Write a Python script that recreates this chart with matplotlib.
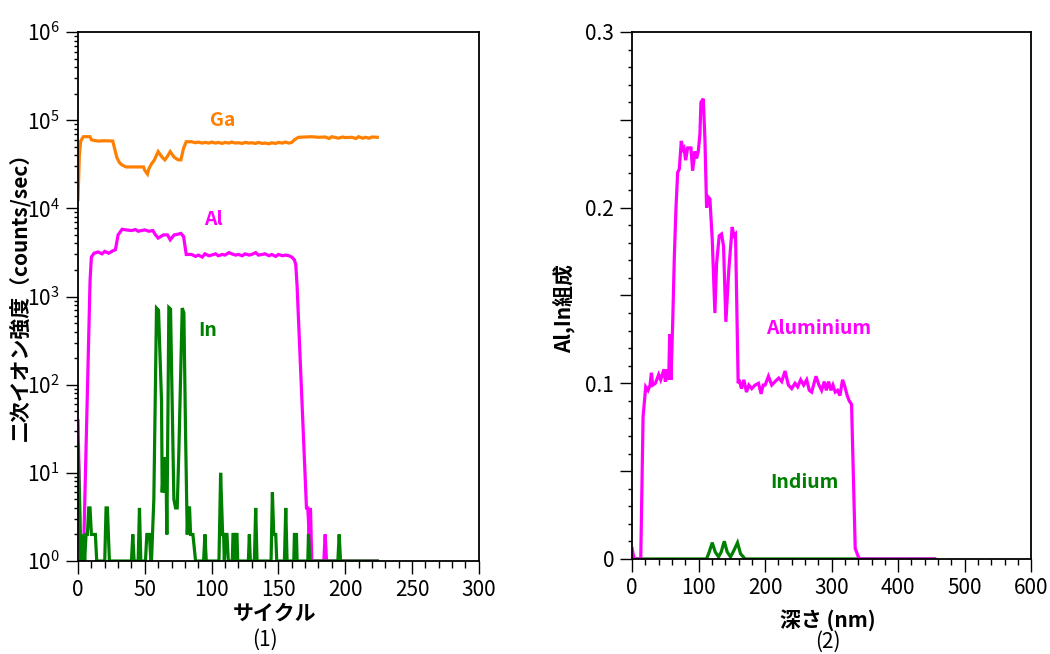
import matplotlib

matplotlib.use("Agg")
import matplotlib.pyplot as plt
import numpy as np
from matplotlib.ticker import FixedLocator, FuncFormatter, LogLocator, MultipleLocator, NullFormatter

plt.rcParams["font.family"] = ["Noto Sans CJK JP", "DejaVu Sans"]

# (1) SIMS depth profile, counts/sec vs sputter cycle
ga_profile = [
    (0, 12600), (1, 40000), (2, 58000), (4, 65000), (9, 65000), (10, 60000), (12, 59000),
    (15, 58000), (20, 58500), (26, 58000), (29, 38000), (31, 33000), (33, 31000),
    (36, 29500), (40, 29500), (45, 29500), (49, 29500), (50, 27000), (52, 24500),
    (53, 28000), (55, 32000), (57, 35000), (60, 44000), (63, 38000), (65, 35500),
    (67, 39000), (69, 44000), (72, 38000), (75, 35500), (77, 35500), (79, 48000),
    (81, 57000), (85, 57000), (88, 55500), (90, 56500), (93, 55000), (95, 56000),
    (98, 55000), (100, 56500), (103, 55000), (105, 56000), (108, 54500), (110, 56000),
    (113, 55000), (115, 56500), (118, 55000), (120, 55500), (123, 54500), (125, 56000),
    (128, 55000), (130, 55500), (133, 54500), (135, 56000), (138, 54500), (140, 55000),
    (143, 54000), (145, 55500), (148, 54500), (150, 56000), (153, 55000), (155, 56500),
    (158, 55000), (160, 56000), (162, 60000), (165, 64000), (170, 64500), (175, 65000),
    (180, 64000), (185, 64500), (188, 62000), (190, 65000), (195, 62500), (198, 64500),
    (200, 63500), (205, 64000), (208, 62000), (210, 65000), (213, 62500), (215, 64000),
    (218, 62500), (220, 64500), (224, 64000),
]
al_profile = [
    (0, 39), (2, 1), (4, 1), (9, 1500), (10, 2800), (12, 3100), (15, 3200), (18, 3050),
    (20, 3250), (23, 3100), (26, 3300), (28, 3400), (30, 5000), (33, 5800), (36, 5700),
    (40, 5600), (43, 5750), (45, 5500), (50, 5700), (53, 5500), (56, 5600), (58, 5000),
    (60, 4600), (62, 4800), (64, 5000), (67, 5000), (69, 4400), (72, 5000), (75, 5100),
    (77, 5200), (79, 4800), (81, 3000), (85, 3000), (88, 2850), (90, 2950), (93, 2800),
    (95, 3050), (98, 2900), (100, 2950), (103, 3050), (105, 2900), (108, 3000),
    (110, 2950), (113, 3150), (115, 3050), (118, 2950), (120, 3000), (123, 2900),
    (125, 3050), (128, 2950), (130, 3000), (133, 3150), (135, 2950), (138, 3000),
    (140, 3050), (143, 2900), (145, 3000), (148, 2850), (150, 3000), (153, 2900),
    (155, 2950), (158, 2900), (160, 2800), (162, 2600), (163, 2300), (164, 1300),
    (171, 4), (172, 4), (173, 2), (174, 4), (175, 1), (184, 1), (185, 2), (186, 1),
    (224, 1),
]
in_profile = [
    (0, 21), (1, 6), (2, 1), (3, 1), (4, 2), (5, 1), (6, 2), (7, 2), (8, 4), (9, 4),
    (10, 2), (13, 2), (14, 1), (20, 1), (21, 4), (22, 4), (23.5, 1), (40, 1), (41, 2),
    (42, 1), (45, 1), (46, 4), (47, 1), (50.5, 1), (51.5, 2), (53.5, 2), (54.5, 1),
    (55, 1), (56.75, 5), (58.75, 740), (60.25, 700), (62.5, 66), (63, 6), (64.25, 15),
    (65, 6), (65.75, 15), (66.5, 2), (68, 750), (69.25, 720), (71.75, 5), (73, 4),
    (74.25, 4), (75.5, 18), (78, 740), (79.25, 650), (80.5, 28), (81.75, 2), (82.5, 4),
    (83.5, 4), (84.25, 2), (86, 2), (88, 1), (94, 1), (95, 2), (96, 1), (105.5, 1),
    (106.75, 10), (108.25, 2), (109, 2), (109.5, 1), (110.5, 2), (111.5, 2), (112.5, 1),
    (115.5, 1), (116, 2), (117, 2), (117.5, 1), (118, 2), (119, 2), (119.5, 1),
    (127.5, 1), (128.25, 2), (129, 1), (132, 1), (133, 4), (134, 1), (144.5, 1),
    (145.5, 6), (146.5, 2), (148, 2), (148.75, 1), (154.5, 1), (155.5, 4), (156.5, 1),
    (161.5, 1), (162, 2), (163.5, 2), (164, 1), (172, 1), (172.5, 2), (173.5, 1),
    (194.5, 1), (195.5, 2), (196.5, 1), (224, 1),
]

# (2) composition vs depth (nm)
aluminium_profile = [
    (0, 0.006), (3, 0.0), (13, 0.0), (16.5, 0.081), (20.5, 0.098), (24, 0.096),
    (27, 0.099), (29, 0.106), (31, 0.099), (35, 0.100), (40, 0.105), (43, 0.102),
    (48, 0.108), (50, 0.101), (52, 0.108), (54, 0.103), (55, 0.102), (56.5, 0.128),
    (58.5, 0.102), (61, 0.134), (63.5, 0.172), (66, 0.200), (68.5, 0.220), (71, 0.222),
    (74, 0.238), (76, 0.233), (78, 0.234), (80.5, 0.227), (83.5, 0.234), (88.5, 0.234),
    (91, 0.221), (94.5, 0.232), (97, 0.228), (99.5, 0.232), (102, 0.242), (103.5, 0.260),
    (107, 0.262), (109.5, 0.239), (112, 0.200), (114.5, 0.206), (117, 0.205),
    (120.5, 0.182), (124.5, 0.140), (127, 0.168), (131, 0.184), (134.5, 0.185),
    (137.5, 0.178), (141, 0.135), (145.5, 0.165), (150.5, 0.189), (153, 0.184),
    (155.5, 0.185), (159.5, 0.100), (161, 0.102), (164.5, 0.097), (168, 0.102),
    (172, 0.095), (175.5, 0.099), (180, 0.097), (185, 0.099), (190, 0.100), (194, 0.094),
    (197, 0.099), (200, 0.099), (205, 0.104), (210, 0.099), (215, 0.101), (220.5, 0.103),
    (225, 0.101), (230, 0.107), (235, 0.099), (240, 0.097), (245, 0.100), (249, 0.098),
    (253.5, 0.102), (258, 0.099), (262.5, 0.102), (266.5, 0.096), (270, 0.095),
    (276.5, 0.104), (281, 0.099), (285, 0.096), (289, 0.101), (292, 0.096), (295.5, 0.101),
    (299, 0.096), (302, 0.099), (305.5, 0.095), (309, 0.096), (312.5, 0.093),
    (316.5, 0.102), (320, 0.098), (323.5, 0.093), (326.5, 0.090), (330, 0.088),
    (335.5, 0.006), (340.5, 0.001), (343, 0.0), (455, 0.0),
]
indium_profile = [
    (0, 0.0), (112, 0.0), (116, 0.004), (120.5, 0.0093), (125, 0.004), (130, 0.0012),
    (134, 0.004), (138.6, 0.0101), (143, 0.004), (148, 0.0012), (152, 0.004),
    (158.5, 0.0093), (163, 0.003), (170, 0.0), (455, 0.0),
]

GA_COLOR = "#ff8000"
AL_COLOR = "#ff00ff"
IN_COLOR = "#008000"
LW = 2.3


def _style_axes(ax):
    for spine in ax.spines.values():
        spine.set_linewidth(1.3)
    ax.tick_params(which="both", direction="out", width=1.0, labelsize=15, pad=4)
    ax.tick_params(which="major", length=9)


def _plot_cycles(ax):
    for profile, color in ((ga_profile, GA_COLOR), (al_profile, AL_COLOR), (in_profile, IN_COLOR)):
        x, y = np.array(profile, dtype=float).T
        ax.plot(x, y, color=color, lw=LW, solid_joinstyle="miter")
    ax.set_yscale("log")
    ax.set_xlim(0, 300)
    ax.set_ylim(1, 1e6)
    ax.xaxis.set_major_locator(MultipleLocator(50))
    ax.xaxis.set_minor_locator(MultipleLocator(10))
    ax.yaxis.set_major_locator(LogLocator(base=10))
    ax.yaxis.set_minor_locator(LogLocator(base=10, subs=np.arange(2, 10)))
    ax.yaxis.set_minor_formatter(NullFormatter())
    _style_axes(ax)
    ax.tick_params(axis="x", which="minor", length=5)
    ax.tick_params(axis="y", which="minor", length=3)
    ax.set_xlabel("サイクル", fontsize=15, fontweight="bold")
    ax.xaxis.set_label_coords(0.49, -0.078)
    ax.set_ylabel("二次イオン強度（counts/sec）", fontsize=15, fontweight="bold")
    ax.yaxis.set_label_coords(-0.12, 0.51)
    ax.text(108, 1.0e5, "Ga", color=GA_COLOR, fontsize=14, fontweight="bold", ha="center", va="center")
    ax.text(101, 7.4e3, "Al", color=AL_COLOR, fontsize=14, fontweight="bold", ha="center", va="center")
    ax.text(97, 410, "In", color=IN_COLOR, fontsize=14, fontweight="bold", ha="center", va="center")


def _plot_depth(ax):
    for profile, color in ((indium_profile, IN_COLOR), (aluminium_profile, AL_COLOR)):
        x, y = np.array(profile, dtype=float).T
        ax.plot(x, y, color=color, lw=LW, solid_joinstyle="miter")
    ax.set_xlim(0, 600)
    ax.set_ylim(0, 0.3)
    ax.xaxis.set_major_locator(MultipleLocator(100))
    ax.xaxis.set_minor_locator(MultipleLocator(20))
    ax.yaxis.set_major_locator(FixedLocator([0, 0.05, 0.1, 0.15, 0.2, 0.25, 0.3]))
    ax.yaxis.set_minor_locator(MultipleLocator(0.01))
    ax.yaxis.set_major_formatter(
        FuncFormatter(lambda v, _: "" if round(v * 100) % 10 else ("0" if v == 0 else f"{v:.1f}"))
    )
    _style_axes(ax)
    ax.tick_params(axis="x", which="minor", length=4)
    ax.tick_params(axis="y", which="minor", length=3)
    ax.set_xlabel("深さ (nm)", fontsize=15, fontweight="bold")
    ax.xaxis.set_label_coords(0.49, -0.095)
    ax.set_ylabel("Al,In組成", fontsize=15, fontweight="bold")
    ax.yaxis.set_label_coords(-0.143, 0.476)
    ax.text(280, 0.131, "Aluminium", color=AL_COLOR, fontsize=14, fontweight="bold", ha="center", va="center")
    ax.text(259, 0.0433, "Indium", color=IN_COLOR, fontsize=14, fontweight="bold", ha="center", va="center")


def main() -> int:
    fig = plt.figure(figsize=(10.5, 6.54), dpi=100)
    ax1 = fig.add_axes([0.0743, 0.1422, 0.3817, 0.8088])
    ax2 = fig.add_axes([0.602, 0.1453, 0.380, 0.8058])
    _plot_cycles(ax1)
    _plot_depth(ax2)
    fig.text(0.252, 0.022, "(1)", fontsize=15, ha="center", va="center")
    fig.text(0.788, 0.019, "(2)", fontsize=15, ha="center", va="center")
    fig.savefig("out.png", dpi=100)
    plt.close(fig)
    return 0


if __name__ == "__main__":
    raise SystemExit(main())
